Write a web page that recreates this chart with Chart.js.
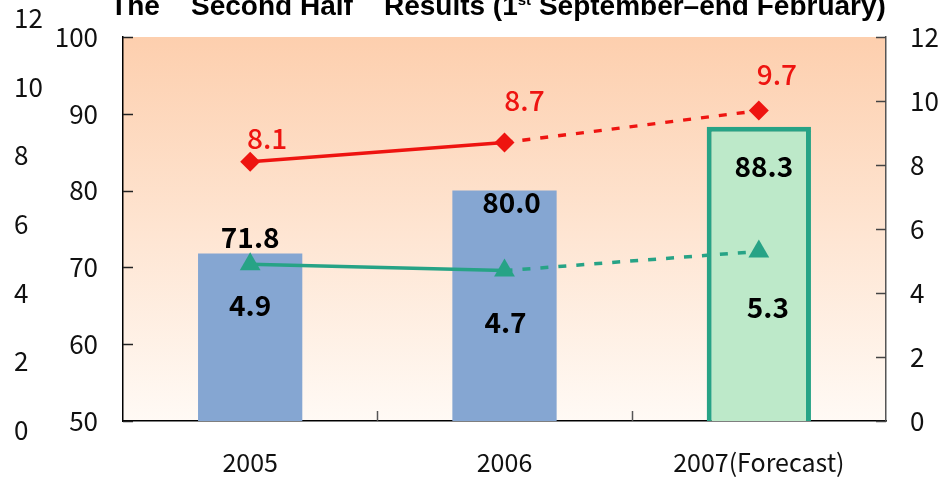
<!DOCTYPE html>
<html>
<head>
<meta charset="utf-8">
<script src="https://cdn.jsdelivr.net/npm/chart.js@4"></script>
<style>
  html, body { margin: 0; padding: 0; background: #fff; }
  #wrap { width: 943px; height: 478px; }
</style>
</head>
<body>
<div id="wrap"><canvas id="halfChart" width="943" height="478"></canvas></div>
<script>
const categories = ['2005', '2006', '2007(Forecast)'];
const salesValues = [71.8, 80.0, 88.3];
const redValues = [8.1, 8.7, 9.7];
const greenValues = [4.9, 4.7, 5.3];
const leftTicks = [50, 60, 70, 80, 90, 100];
const rightTicks = [0, 2, 4, 6, 8, 10, 12];
const outerTicks = [0, 2, 4, 6, 8, 10, 12];

const FONT = "'Noto Sans CJK JP', 'Noto Sans', sans-serif";
const RED = '#ee1410';
const TEAL = '#27a386';

// offsets of the value labels from their marks (dx, dy)
const labelOffsets = {
  bar: [[0, -16], [7, 12], [5, 40]],
  red: [[17, -23], [20, -42], [18, -36]],
  green: [[0, 41], [1, 52], [9, 56]]
};

const backgroundPlugin = {
  id: 'bg',
  beforeDraw(chart) {
    const { ctx, chartArea: a } = chart;
    const g = ctx.createLinearGradient(0, a.top, 0, a.bottom);
    g.addColorStop(0, '#fdcfae');
    g.addColorStop(1, '#fffaf5');
    ctx.save();
    ctx.fillStyle = g;
    ctx.fillRect(a.left, a.top, a.right - a.left, a.bottom - a.top);
    ctx.restore();
  }
};

const decorPlugin = {
  id: 'decor',
  afterDraw(chart) {
    const { ctx, chartArea: a, scales } = chart;
    ctx.save();
    // inward tick marks
    ctx.lineWidth = 1.5;
    ctx.strokeStyle = '#222';
    for (const v of leftTicks) {
      const y = Math.round(scales.y.getPixelForValue(v)) + 0.5;
      ctx.beginPath(); ctx.moveTo(a.left, y); ctx.lineTo(a.left + 10, y); ctx.stroke();
    }
    ctx.strokeStyle = '#444';
    for (const v of rightTicks) {
      const y = Math.round(scales.y2.getPixelForValue(v)) + 0.5;
      ctx.beginPath(); ctx.moveTo(a.right - 10, y); ctx.lineTo(a.right, y); ctx.stroke();
    }
    ctx.strokeStyle = '#555';
    for (let i = 1; i < categories.length; i++) {
      const x = Math.round((scales.x.getPixelForValue(i - 1) + scales.x.getPixelForValue(i)) / 2) + 0.5;
      ctx.beginPath(); ctx.moveTo(x, a.bottom); ctx.lineTo(x, a.bottom - 10); ctx.stroke();
    }

    // outer left scale (0-12)
    ctx.fillStyle = '#111';
    ctx.font = '26px ' + FONT;
    ctx.textAlign = 'left';
    ctx.textBaseline = 'middle';
    const top = 18, bottom = 430;
    for (const v of outerTicks) {
      const y = bottom - (bottom - top) * v / 12;
      ctx.fillText(String(v), 14, y);
    }

    // value labels
    ctx.textAlign = 'center';
    const draw = (dsIndex, values, offs, color) => {
      const meta = chart.getDatasetMeta(dsIndex);
      ctx.fillStyle = color;
      meta.data.forEach((el, i) => {
        const x = el.x + offs[i][0];
        const y = el.y + offs[i][1];
        ctx.fillText(values[i].toFixed(1), x, y);
      });
    };
    ctx.font = 'bold 28px ' + FONT;
    draw(2, salesValues, labelOffsets.bar, '#000');
    draw(1, greenValues, labelOffsets.green, '#000');
    ctx.font = '500 28px ' + FONT;
    draw(0, redValues, labelOffsets.red, RED);

    // title (cut off at the top edge)
    ctx.fillStyle = '#000';
    ctx.textBaseline = 'alphabetic';
    ctx.textAlign = 'left';
    const parts = [
      ['bold 28px Liberation Sans', 'The    Second Half    Results (1', 0],
      ['bold 15px Liberation Sans', 'st', -10],
      ['bold 28px Liberation Sans', ' September\u2013end February)', 0]
    ];
    let w = 0;
    for (const p of parts) { ctx.font = p[0]; w += ctx.measureText(p[1]).width; }
    let x = 498 - w / 2;
    for (const p of parts) {
      ctx.font = p[0];
      ctx.fillText(p[1], x, 15 + p[2]);
      x += ctx.measureText(p[1]).width;
    }
    ctx.restore();
  }
};

const dashSecond = ctx => ctx.p0DataIndex === 1 ? [8, 10] : undefined;

new Chart(document.getElementById('halfChart'), {
  data: {
    labels: categories,
    datasets: [
      {
        type: 'line',
        label: 'red',
        data: redValues,
        yAxisID: 'y2',
        borderColor: RED,
        backgroundColor: RED,
        borderWidth: 3.5,
        pointStyle: 'rectRot',
        pointRadius: 10,
        pointBorderWidth: 0,
        segment: { borderDash: dashSecond },
        order: 1
      },
      {
        type: 'line',
        label: 'green',
        data: greenValues,
        yAxisID: 'y2',
        borderColor: TEAL,
        backgroundColor: TEAL,
        borderWidth: 3.5,
        pointStyle: 'triangle',
        pointRadius: 12,
        pointBorderWidth: 0,
        segment: { borderDash: dashSecond },
        order: 2
      },
      {
        type: 'bar',
        label: 'sales',
        data: salesValues,
        yAxisID: 'y',
        backgroundColor: ['#85a6d2', '#85a6d2', '#bde9c9'],
        borderColor: ['#85a6d2', '#85a6d2', TEAL],
        borderWidth: [0, 0, 5],
        borderSkipped: false,
        categoryPercentage: 1,
        barPercentage: 0.41,
        order: 3
      }
    ]
  },
  options: {
    responsive: false,
    animation: false,
    layout: { padding: { top: 37, left: 0, right: 0, bottom: 0 } },
    plugins: {
      legend: { display: false },
      tooltip: { enabled: false },
      title: { display: false }
    },
    scales: {
      x: {
        offset: true,
        grid: { display: false },
        border: { display: true, color: '#000', width: 1.5 },
        ticks: { color: '#111', font: { family: FONT, size: 25 }, padding: 18, maxRotation: 0 },
        afterFit: s => { s.height = 57; }
      },
      y: {
        position: 'left',
        min: 50, max: 100,
        grid: { display: false },
        border: { display: true, color: '#000', width: 1.5 },
        ticks: { stepSize: 10, color: '#111', font: { family: FONT, size: 26 }, padding: 17 },
        afterFit: s => { s.width = 123; }
      },
      y2: {
        position: 'right',
        min: 0, max: 12,
        grid: { display: false },
        border: { display: true, color: '#555', width: 1.5 },
        ticks: { stepSize: 2, color: '#111', font: { family: FONT, size: 26 }, padding: 16 },
        afterFit: s => { s.width = 57; }
      }
    }
  },
  plugins: [backgroundPlugin, decorPlugin]
});
</script>
</body>
</html>
